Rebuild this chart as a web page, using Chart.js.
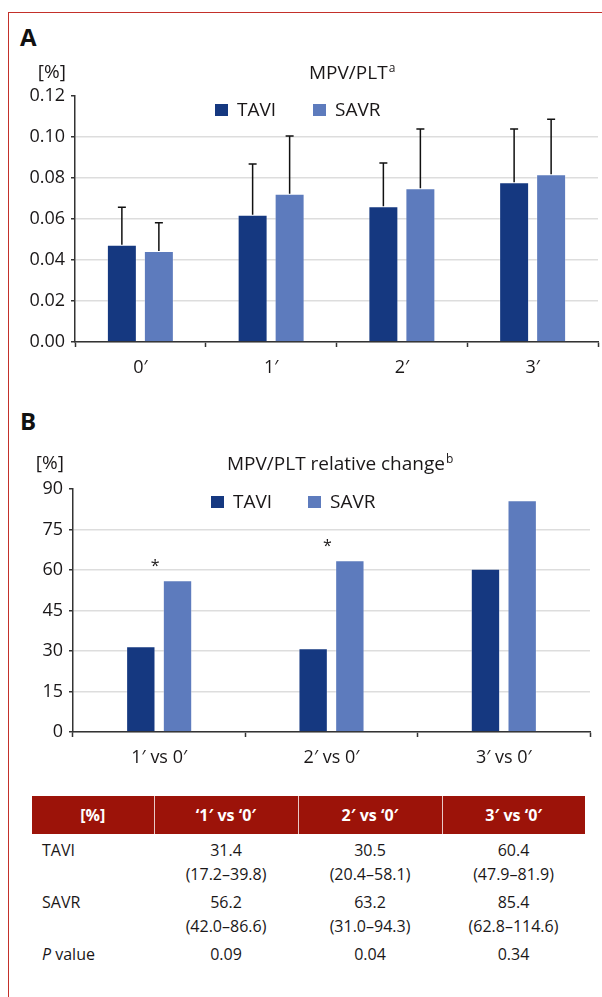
<!DOCTYPE html>
<html>
<head>
<meta charset="utf-8">
<script src="https://cdn.jsdelivr.net/npm/chart.js@4/dist/chart.umd.min.js"></script>
<style>
    html, body { margin: 0; padding: 0; background: #fff; }
    body { width: 602px; height: 997px; position: relative; overflow: hidden; font-family: "Open Sans", sans-serif; color: #1a1718; }
    .frame { position: absolute; left: 8px; top: 12px; right: 0; bottom: 0; border-left: 1.5px solid #c3302a; border-top: 1.5px solid #c3302a; }
    .panel_letter { position: absolute; left: 20px; font-weight: 700; font-size: 24px; line-height: 24px; color: #111; }
    .chart_box { position: absolute; left: 0; width: 602px; }
    table.stats { position: absolute; left: 32px; top: 796px; width: 553px; border-collapse: collapse; font-size: 16px; table-layout: fixed; }
    table.stats th { background: #9c1309; color: #fff; font-weight: 700; font-size: 16px; height: 38px; padding: 0; text-align: center; border-left: 1.5px solid #e8c9c6; }
    table.stats th:first-child { border-left: none; }
    table.stats td { padding: 4px 0 0 0; line-height: 24px; text-align: center; vertical-align: top; }
    table.stats td:first-child { text-align: left; padding-left: 10px; }
</style>
</head>
<body>
<div class="frame"></div>
<div class="panel_letter" style="top:25px">A</div>
<div class="panel_letter" style="top:409px">B</div>

<div class="chart_box" style="top:0px; height:385px"><canvas id="chart_a" width="602" height="385"></canvas></div>
<div class="chart_box" style="top:380px; height:400px"><canvas id="chart_b" width="602" height="400"></canvas></div>

<table class="stats" id="stats_table">
    <colgroup><col style="width:122px"><col style="width:144px"><col style="width:144px"><col style="width:143px"></colgroup>
    <thead><tr id="stats_head"></tr></thead>
    <tbody id="stats_body"></tbody>
</table>

<script>
// Panel A - MPV/PLT (mean, upper error bar end)
const timepoints = ['0′', '1′', '2′', '3′'];
const tavi_mean = [0.0475, 0.0621, 0.0662, 0.0779];
const savr_mean = [0.0444, 0.0723, 0.0750, 0.0818];
const tavi_upper = [0.0657, 0.0868, 0.0873, 0.1039];
const savr_upper = [0.0582, 0.1005, 0.1039, 0.1086];
const ticks_a = [0, 0.12, 0.02];

// Panel B - relative change
const comparisons = ['1′ vs 0′', '2′ vs 0′', '3′ vs 0′'];
const tavi_change = [31.8, 31.0, 60.5];
const savr_change = [56.2, 63.6, 85.8];
const significant = [true, true, false];
const ticks_b = [0, 90, 15];

// table
const table_head = ['[%]', '‘1′ vs ‘0′', '2′ vs ‘0′', '3′ vs ‘0′'];
const tavi_median = ['31.4', '30.5', '60.4'];
const tavi_range = ['(17.2–39.8)', '(20.4–58.1)', '(47.9–81.9)'];
const savr_median = ['56.2', '63.2', '85.4'];
const savr_range = ['(42.0–86.6)', '(31.0–94.3)', '(62.8–114.6)'];
const p_values = ['0.09', '0.04', '0.34'];

const tavi_color = '#153880';
const savr_color = '#5d7bbd';
const font_family = '"Open Sans", sans-serif';
const text_color = '#1a1718';

// title, unit, legend and asterisks drawn on top of the chart
const decorations = {
    id: 'decorations',
    afterDraw: function(chart, args, opts) {
        const ctx = chart.ctx;
        ctx.save();
        ctx.fillStyle = text_color;
        ctx.textBaseline = 'alphabetic';

        ctx.font = '19px ' + font_family;
        ctx.textAlign = 'right';
        ctx.fillText('[%]', opts.unit_x, opts.unit_y);

        ctx.textAlign = 'left';
        ctx.fillText(opts.title, opts.title_x, opts.title_y);
        const w = ctx.measureText(opts.title).width;
        ctx.font = '12px ' + font_family;
        ctx.fillText(opts.sup, opts.title_x + w + 1, opts.title_y - 7);

        chart.data.datasets.forEach(function(ds, i) {
            const x = opts.legend_x[i];
            ctx.fillStyle = ds.backgroundColor;
            ctx.fillRect(x, opts.legend_y - 12, 13, 12);
            ctx.fillStyle = text_color;
            ctx.font = '19px ' + font_family;
            ctx.fillText(ds.label, x + 22, opts.legend_y);
        });

        if (opts.stars) {
            const x_scale = chart.scales.x;
            const y_scale = chart.scales.y;
            ctx.font = '16px ' + font_family;
            ctx.textAlign = 'center';
            ctx.textBaseline = 'middle';
            opts.stars.forEach(function(on, i) {
                if (!on) return;
                const top = y_scale.getPixelForValue(chart.data.datasets[1].data[i]);
                ctx.fillText('*', x_scale.getPixelForValue(i) - 4, top - 14);
            });
        }
        ctx.restore();
    }
};

// upper error bars for panel A
const error_bars = {
    id: 'error_bars',
    afterDatasetsDraw: function(chart, args, opts) {
        if (!opts.upper) return;
        const ctx = chart.ctx;
        const y_scale = chart.scales.y;
        ctx.save();
        ctx.strokeStyle = '#111';
        ctx.lineWidth = 1.5;
        opts.upper.forEach(function(values, i) {
            const meta = chart.getDatasetMeta(i);
            meta.data.forEach(function(bar, j) {
                const top = y_scale.getPixelForValue(values[j]);
                ctx.beginPath();
                ctx.moveTo(bar.x, bar.y);
                ctx.lineTo(bar.x, top);
                ctx.moveTo(bar.x - 4, top);
                ctx.lineTo(bar.x + 4, top);
                ctx.stroke();
            });
        });
        ctx.restore();
    }
};

function make_scales(ticks, y_width, decimals) {
    return {
        x: {
            afterFit: function(scale) { scale.height = 37; },
            grid: { drawOnChartArea: false, drawTicks: true, tickLength: 5, tickColor: '#333', tickWidth: 1.5 },
            border: { color: '#333', width: 1.5 },
            ticks: { color: text_color, font: { family: font_family, size: 18 }, padding: 10 }
        },
        y: {
            min: ticks[0],
            max: ticks[1],
            afterFit: function(scale) { scale.width = y_width; },
            grid: {
                color: function(c) { return c.tick && c.tick.value >= ticks[1] - ticks[2] / 10 ? 'rgba(0,0,0,0)' : '#dddddd'; },
                lineWidth: 1.5,
                tickLength: 4,
                tickColor: '#333',
                tickWidth: 1.5
            },
            border: { color: '#333', width: 1.5 },
            ticks: {
                stepSize: ticks[2],
                color: text_color,
                padding: 6,
                font: { family: font_family, size: 18 },
                callback: function(v) { return Number(v).toFixed(decimals); }
            }
        }
    };
}

const chart_a = new Chart(document.getElementById('chart_a').getContext('2d'), {
    type: 'bar',
    data: {
        labels: timepoints,
        datasets: [
            { label: 'TAVI', data: tavi_mean, backgroundColor: tavi_color, borderColor: 'rgba(255,255,255,0.3)', borderWidth: 1 },
            { label: 'SAVR', data: savr_mean, backgroundColor: savr_color, borderColor: 'rgba(255,255,255,0.3)', borderWidth: 1 }
        ]
    },
    options: {
        responsive: false,
        animation: false,
        categoryPercentage: 0.566,
        barPercentage: 0.81,
        layout: { padding: { top: 96, left: 0, right: 4, bottom: 6 } },
        scales: make_scales(ticks_a, 75, 2),
        plugins: {
            legend: { display: false },
            tooltip: { enabled: false },
            decorations: { unit_x: 66, unit_y: 78, title: 'MPV/PLT', sup: 'a', title_x: 309, title_y: 79, legend_x: [215, 313], legend_y: 116 },
            error_bars: { upper: [tavi_upper, savr_upper] }
        }
    },
    plugins: [decorations, error_bars]
});

const chart_b = new Chart(document.getElementById('chart_b').getContext('2d'), {
    type: 'bar',
    data: {
        labels: comparisons,
        datasets: [
            { label: 'TAVI', data: tavi_change, backgroundColor: tavi_color, borderColor: 'rgba(255,255,255,0.3)', borderWidth: 1 },
            { label: 'SAVR', data: savr_change, backgroundColor: savr_color, borderColor: 'rgba(255,255,255,0.3)', borderWidth: 1 }
        ]
    },
    options: {
        responsive: false,
        animation: false,
        categoryPercentage: 0.426,
        barPercentage: 0.8,
        layout: { padding: { top: 109, left: 0, right: 12, bottom: 11 } },
        scales: make_scales(ticks_b, 73, 0),
        plugins: {
            legend: { display: false },
            tooltip: { enabled: false },
            decorations: { unit_x: 64, unit_y: 89, title: 'MPV/PLT relative change', sup: 'b', title_x: 227, title_y: 90, legend_x: [211, 308], legend_y: 128, stars: significant },
            error_bars: { upper: null }
        }
    },
    plugins: [decorations, error_bars]
});

// table rows
const head_row = document.getElementById('stats_head');
table_head.forEach(function(h) {
    const th = document.createElement('th');
    th.textContent = h;
    head_row.appendChild(th);
});

const body = document.getElementById('stats_body');
function add_row(label_html, cells) {
    const tr = document.createElement('tr');
    const first = document.createElement('td');
    first.innerHTML = label_html;
    tr.appendChild(first);
    cells.forEach(function(c) {
        const td = document.createElement('td');
        td.innerHTML = c;
        tr.appendChild(td);
    });
    body.appendChild(tr);
}
add_row('TAVI', tavi_median.map(function(m, i) { return m + '<br>' + tavi_range[i]; }));
add_row('SAVR', savr_median.map(function(m, i) { return m + '<br>' + savr_range[i]; }));
add_row('<i>P</i> value', p_values);
</script>
</body>
</html>
